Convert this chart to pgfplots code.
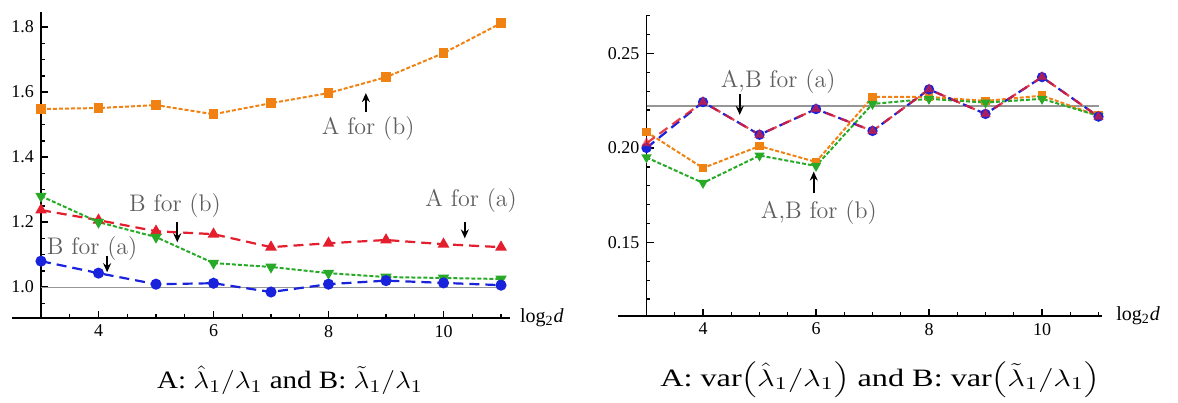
\documentclass[border=0pt]{standalone}
\usepackage{pgfplots}
\pgfplotsset{compat=1.18}
\usepackage{fontspec}
\usetikzlibrary{arrows.meta}
\newfontfamily\timesfont{Liberation Serif}

\definecolor{morange}{RGB}{240,130,20}
\definecolor{mred}{RGB}{228,30,45}
\definecolor{mgreen}{RGB}{40,170,40}
\definecolor{mblue}{RGB}{25,35,220}
\definecolor{annot}{RGB}{95,95,95}
\definecolor{refline}{RGB}{150,150,150}

\tikzset{
  ann/.style={text=annot, font=\fontsize{12}{14}\selectfont, inner sep=0pt},
  arr/.style={-{Stealth[length=4.5pt,width=4pt]}, line width=1.1pt, black},
  capt/.style={font=\timesfont\fontsize{12.5}{14}\selectfont, inner sep=0pt},
}

\pgfplotsset{
  mstyle/.style={
    scale only axis, clip=false,
    axis x line=bottom, axis y line=left,
    axis line style={-, line width=0.8pt, black},
    tick align=inside,
    major tick length=3.5pt, minor tick length=1.8pt,
    every tick/.style={black, line width=0.7pt},
    ticklabel style={font=\timesfont\fontsize{9}{10}\selectfont},
    /pgf/number format/assume math mode=true,
    xtick={4,6,8,10},
    minor xtick={3.5,4.5,5,5.5,6.5,7,7.5,8.5,9,9.5,10.5,11},
  },
  orangeA/.style={morange, dash pattern=on 2pt off 1pt, line width=1pt,
    mark=square*, mark size=1.9pt, mark options={solid, fill=morange, draw=morange}},
  greenB/.style={mgreen, dash pattern=on 2pt off 1pt, line width=1pt,
    mark=triangle*, mark size=2.3pt, mark options={solid, rotate=180, fill=mgreen, draw=mgreen}},
  redA/.style={mred, dash pattern=on 5pt off 3pt, line width=1.1pt,
    mark=triangle*, mark size=2.3pt, mark options={solid, fill=mred, draw=mred}},
  blueB/.style={mblue, dash pattern=on 5pt off 3pt, line width=1.1pt,
    mark=*, mark size=2.2pt, mark options={solid, fill=mblue, draw=mblue}},
}

\begin{document}
\begin{tikzpicture}
\useasboundingbox (0,0) rectangle (589pt,201pt);

% ---- left panel: ratios of the estimates ----
\begin{axis}[mstyle,
  x=28.75pt, y=162.5pt,
  xmin=3, xmax=11.15, ymin=0.905, ymax=1.845,
  at={(20.5pt,42pt)}, anchor=south west,
  ytick={1.0,1.2,1.4,1.6,1.8},
  minor ytick={0.95,1.05,1.1,1.15,1.25,1.3,1.35,1.45,1.5,1.55,1.65,1.7,1.75},
  yticklabel style={/pgf/number format/.cd, fixed, fixed zerofill, precision=1},
]
\draw[line width=0.8pt] (axis cs:2.5,0.905) -- (axis cs:3,0.905);
\addplot[refline, semithick] coordinates {(3,1) (11,1)};

\addplot[orangeA] coordinates {
  (3,1.548) (4,1.551) (5,1.560) (6,1.532) (7,1.566)
  (8,1.597) (9,1.646) (10,1.720) (11,1.812)};
\addplot[redA] coordinates {
  (3,1.237) (4,1.206) (5,1.172) (6,1.163) (7,1.123)
  (8,1.135) (9,1.145) (10,1.132) (11,1.123)};
\addplot[greenB] coordinates {
  (3,1.280) (4,1.200) (5,1.154) (6,1.074) (7,1.062)
  (8,1.043) (9,1.031) (10,1.028) (11,1.025)};
\addplot[blueB] coordinates {
  (3,1.080) (4,1.043) (5,1.009) (6,1.012) (7,0.985)
  (8,1.009) (9,1.020) (10,1.013) (11,1.006)};

\node[ann] at (axis cs:5.33,1.252) {B for (b)};
\draw[arr] (axis cs:5.37,1.200) -- (axis cs:5.37,1.138);
\node[ann] at (axis cs:3.89,1.120) {B for (a)};
\draw[arr] (axis cs:4.15,1.095) -- (axis cs:4.15,1.046);
\node[ann] at (axis cs:10.48,1.268) {A for (a)};
\draw[arr] (axis cs:10.37,1.200) -- (axis cs:10.37,1.150);
\node[ann] at (axis cs:8.69,1.489) {A for (b)};
\draw[arr] (axis cs:8.65,1.540) -- (axis cs:8.65,1.597);

\node[anchor=west, font=\timesfont\fontsize{10}{12}\selectfont, inner sep=0pt]
  at (axis cs:11.15,0.905) [xshift=5pt] {log\textsubscript{2}\textit{d}};
\end{axis}

% ---- right panel: variances of the estimates ----
\begin{axis}[mstyle,
  x=28.25pt, y=945pt,
  xmin=3, xmax=11.06, ymin=0.1111, ymax=0.2704,
  at={(323.25pt,43pt)}, anchor=south west,
  ytick={0.15,0.20,0.25},
  minor ytick={0.12,0.13,0.14,0.16,0.17,0.18,0.19,0.21,0.22,0.23,0.24,0.26,0.27},
  yticklabel style={/pgf/number format/.cd, fixed, fixed zerofill, precision=2},
]
\draw[line width=0.8pt] (axis cs:2.5,0.1111) -- (axis cs:3,0.1111);
\addplot[refline, semithick] coordinates {(3,0.2222) (11,0.2222)};

\addplot[orangeA, mark size=1.7pt] coordinates {
  (3,0.2085) (4,0.1894) (5,0.2010) (6,0.1926) (7,0.2270)
  (8,0.2270) (9,0.2249) (10,0.2277) (11,0.2170)};
\addplot[greenB, mark size=2pt] coordinates {
  (3,0.1950) (4,0.1815) (5,0.1960) (6,0.1905) (7,0.2233)
  (8,0.2260) (9,0.2240) (10,0.2260) (11,0.2170)};
\addplot[blueB, mark size=2pt] coordinates {
  (3,0.2000) (4,0.2243) (5,0.2070) (6,0.2206) (7,0.2090)
  (8,0.2310) (9,0.2180) (10,0.2375) (11,0.2166)};
% the two (a) curves coincide; the red one is drawn over the blue one
\addplot[redA, mark size=2pt, draw opacity=0.85, mark options={solid, fill=mred, draw=mred, opacity=0.55}] coordinates {
  (3,0.2025) (4,0.2243) (5,0.2070) (6,0.2206) (7,0.2090)
  (8,0.2310) (9,0.2180) (10,0.2375) (11,0.2166)};

\node[ann] at (axis cs:5.33,0.2350) {A,B for (a)};
\draw[arr] (axis cs:4.65,0.2285) -- (axis cs:4.65,0.2175);
\node[ann] at (axis cs:6.05,0.1660) {A,B for (b)};
\draw[arr] (axis cs:5.96,0.1760) -- (axis cs:5.96,0.1875);

\node[anchor=west, font=\timesfont\fontsize{10}{12}\selectfont, inner sep=0pt]
  at (axis cs:11.06,0.1111) [xshift=7pt] {log\textsubscript{2}\textit{d}};
\end{axis}

% ---- captions ----
\node[capt] at (145pt,11pt)
  {\scalebox{1.16}[1]{A: $\hat{\lambda}_1/\lambda_1$ and B: $\tilde{\lambda}_1/\lambda_1$}};
\node[capt] at (440pt,11pt)
  {\scalebox{1.29}[1]{A: var$\left(\hat{\lambda}_1/\lambda_1\right)$ and B: var$\left(\tilde{\lambda}_1/\lambda_1\right)$}};
\end{tikzpicture}
\end{document}
